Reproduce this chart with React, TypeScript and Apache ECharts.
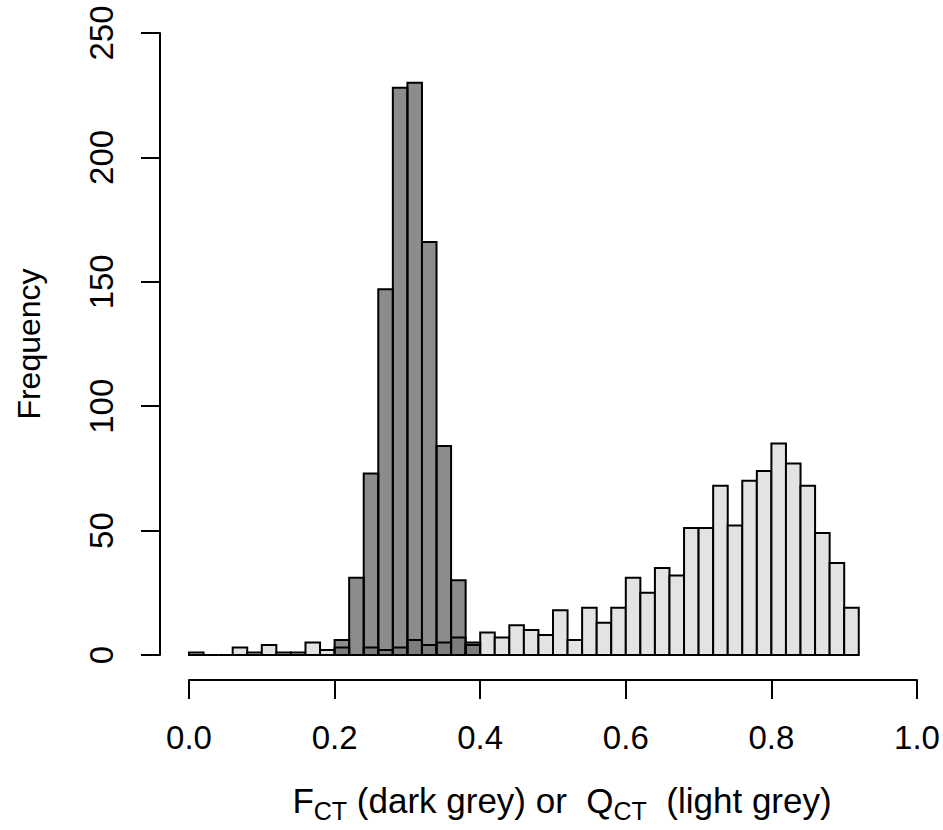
import React, { useEffect, useRef } from "react";
import * as echarts from "echarts";

// Histogram bins (width 0.02)
const binWidth = 0.02;
const lightStart = 0.0; // Q_CT (light grey)
const lightCounts = [
  1, 0, 0, 3, 1, 4, 1, 1, 5, 2,
  3, 0, 3, 2, 3, 6, 4, 5, 7, 4,
  9, 7, 12, 10, 8, 18, 6, 19, 13, 19,
  31, 25, 35, 32, 51, 51, 68, 52, 70, 74,
  85, 77, 68, 49, 37, 19,
];
const darkStart = 0.2; // F_CT (dark grey)
const darkCounts = [6, 31, 73, 147, 228, 230, 166, 84, 30, 5];

const xTicks = [0, 0.2, 0.4, 0.6, 0.8, 1.0];
const yTicks = [0, 50, 100, 150, 200, 250];

const toBins = (start: number, counts: number[]) =>
  counts.map((c, i) => {
    const a = Math.round((start + i * binWidth) * 1000) / 1000;
    const b = Math.round((start + (i + 1) * binWidth) * 1000) / 1000;
    return [a, b, c];
  });

const FONT = "'Liberation Sans', Arial, Helvetica, sans-serif";

export default function App() {
  const ref = useRef<HTMLDivElement>(null);
  useEffect(() => {
    document.body.style.margin = "0";
    if (!ref.current) return;
    const chart = echarts.init(ref.current, null, { renderer: "svg" });
    const makeRender = (fill: string) => (params: any, api: any) => {
      const x0 = api.value(0);
      const x1 = api.value(1);
      const h = api.value(2);
      const p0 = api.coord([x0, 0]);
      const p1 = api.coord([x1, h]);
      return {
        type: "rect",
        shape: { x: p0[0], y: p1[1], width: p1[0] - p0[0], height: p0[1] - p1[1] },
        style: { fill, stroke: "#000", lineWidth: 2 },
      };
    };
    chart.setOption({
      animation: false,
      backgroundColor: "#fff",
      grid: { left: 189, right: 26, top: 33, bottom: 175 },
      xAxis: {
        type: "value",
        min: xTicks[0],
        max: xTicks[xTicks.length - 1],
        interval: 0.2,
        offset: 25,
        splitLine: { show: false },
        axisLine: { show: true, onZero: false, lineStyle: { color: "#000", width: 2 } },
        axisTick: { show: true, length: 19, lineStyle: { color: "#000", width: 2 } },
        axisLabel: {
          color: "#000",
          fontSize: 33,
          fontFamily: FONT,
          margin: 41,
          formatter: (v: number) => v.toFixed(1),
        },
        name: "{a|F}{s|CT}{a| (dark grey) or  Q}{s|CT}{a|  (light grey)}",
        nameLocation: "middle",
        nameGap: 98,
        nameTextStyle: {
          padding: [0, 0, 0, 18],
          rich: {
            a: { fontSize: 35, fontFamily: FONT, color: "#000", verticalAlign: "middle" },
            s: { fontSize: 25, fontFamily: FONT, color: "#000", padding: [20, 0, 0, 0] },
          },
        },
      },
      yAxis: {
        type: "value",
        min: yTicks[0],
        max: yTicks[yTicks.length - 1],
        interval: 50,
        offset: 29,
        splitLine: { show: false },
        axisLine: { show: true, onZero: false, lineStyle: { color: "#000", width: 2 } },
        axisTick: { show: true, length: 19, lineStyle: { color: "#000", width: 2 } },
        axisLabel: {
          color: "#000",
          fontSize: 33,
          fontFamily: FONT,
          margin: 42,
          rotate: 90,
        },
        name: "Frequency",
        nameLocation: "middle",
        nameGap: 115,
        nameRotate: 90,
        nameTextStyle: { fontSize: 32, fontFamily: FONT, color: "#000" },
      },
      series: [
        {
          type: "custom",
          name: "Q_CT",
          renderItem: makeRender("#e3e3e3"),
          encode: { x: [0, 1], y: 2 },
          data: toBins(lightStart, lightCounts),
          z: 1,
        },
        {
          type: "custom",
          name: "F_CT",
          renderItem: makeRender("rgba(0,0,0,0.45)"),
          encode: { x: [0, 1], y: 2 },
          data: toBins(darkStart, darkCounts),
          z: 2,
        },
      ],
    });
    return () => chart.dispose();
  }, []);
  return (
    <div
      ref={ref}
      style={{ position: "absolute", left: 0, top: 0, width: 943, height: 830, background: "#fff" }}
    />
  );
}
